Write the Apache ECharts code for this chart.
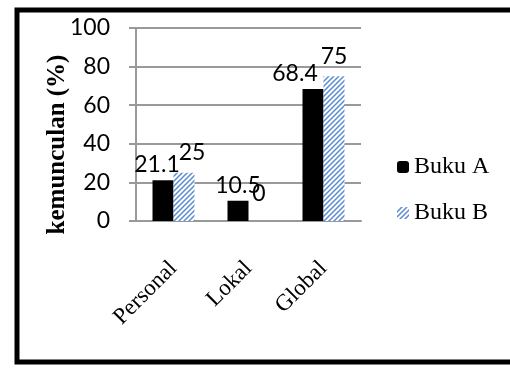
<!DOCTYPE html>
<html>
<head>
<meta charset="utf-8">
<script src="https://cdn.jsdelivr.net/npm/echarts@6/dist/echarts.min.js"></script>
<style>
  html, body { margin: 0; padding: 0; background: #fff; }
  #chart { width: 510px; height: 368px; }
</style>
</head>
<body>
<div id="chart"></div>
<script>
// data
var categories = ["Personal", "Lokal", "Global"];
var bukuA = [21.1, 10.5, 68.4];
var bukuB = [25, 0, 75];
var yTicks = [0, 20, 40, 60, 80, 100];

// label nudges (Excel pushed overlapping labels apart)
var offsetA = [[-6, 0], [0, 0], [-18, 0]];
var offsetB = [[8, -5], [0, -12], [0, -4]];

// hatch fill for Buku B (blue diagonal stripes)
function make_hatch(){
    var c = document.createElement("canvas");
    c.width = 5; c.height = 5;
    var ctx = c.getContext("2d");
    ctx.fillStyle = "#ffffff";
    ctx.fillRect(0, 0, 5, 5);
    ctx.strokeStyle = "#5b8bd0";
    ctx.lineWidth = 1.5;
    ctx.beginPath();
    ctx.moveTo(0, 5); ctx.lineTo(5, 0);
    ctx.moveTo(-3, 3); ctx.lineTo(3, -3);
    ctx.moveTo(2, 8); ctx.lineTo(8, 2);
    ctx.stroke();
    return { image: c, repeat: "repeat" };
}

function with_labels(values, offsets){
    return values.map(function(v, i){
        return { value: v, label: { offset: offsets[i] } };
    });
}

var chart = echarts.init(document.getElementById("chart"));

var labelStyle = {
    show: true,
    position: "top",
    distance: 4,
    fontFamily: "Lato",
    fontSize: 23,
    color: "#000"
};

var option = {
    animation: false,
    backgroundColor: "#fff",
    graphic: [{
        type: "rect",
        shape: { x: 17, y: 10, width: 510, height: 352 },
        style: { fill: "none", stroke: "#000", lineWidth: 5 },
        silent: true
    }],
    grid: { left: 136, top: 28, right: 149, bottom: 147 },
    legend: {
        orient: "vertical",
        left: 392,
        top: 150,
        itemWidth: 12,
        itemHeight: 12,
        itemGap: 22,
        textStyle: { fontFamily: "Liberation Serif", fontSize: 24, color: "#000" },
        data: ["Buku A", "Buku B"]
    },
    xAxis: {
        type: "category",
        data: categories,
        axisLine: { lineStyle: { color: "#999", width: 2 } },
        axisTick: { show: false },
        axisLabel: {
            rotate: 45,
            margin: 44,
            fontFamily: "Liberation Serif",
            fontSize: 23,
            color: "#000"
        }
    },
    yAxis: {
        type: "value",
        min: 0,
        max: 100,
        interval: 20,
        name: "kemunculan (%)",
        nameLocation: "middle",
        nameGap: 66,
        nameMoveOverlap: false,
        nameRotate: 90,
        nameTextStyle: {
            fontFamily: "Liberation Serif",
            fontWeight: "bold",
            fontSize: 25,
            color: "#000",
            padding: [0, 40, 0, 0]
        },
        axisLine: { show: true, lineStyle: { color: "#999", width: 2 } },
        axisTick: { show: true, length: 7, lineStyle: { color: "#999", width: 2 } },
        splitLine: { lineStyle: { color: "#999", width: 2 } },
        axisLabel: {
            margin: 26,
            fontFamily: "Lato",
            fontSize: 23,
            color: "#000",
            formatter: function(v){ return yTicks.indexOf(v) >= 0 ? String(v) : ""; }
        }
    },
    series: [{
        name: "Buku A",
        type: "bar",
        data: with_labels(bukuA, offsetA),
        barGap: "0%",
        barCategoryGap: "44%",
        itemStyle: { color: "#000" },
        label: labelStyle
    }, {
        name: "Buku B",
        type: "bar",
        data: with_labels(bukuB, offsetB),
        itemStyle: { color: make_hatch() },
        label: labelStyle
    }]
};

chart.setOption(option);
</script>
</body>
</html>
